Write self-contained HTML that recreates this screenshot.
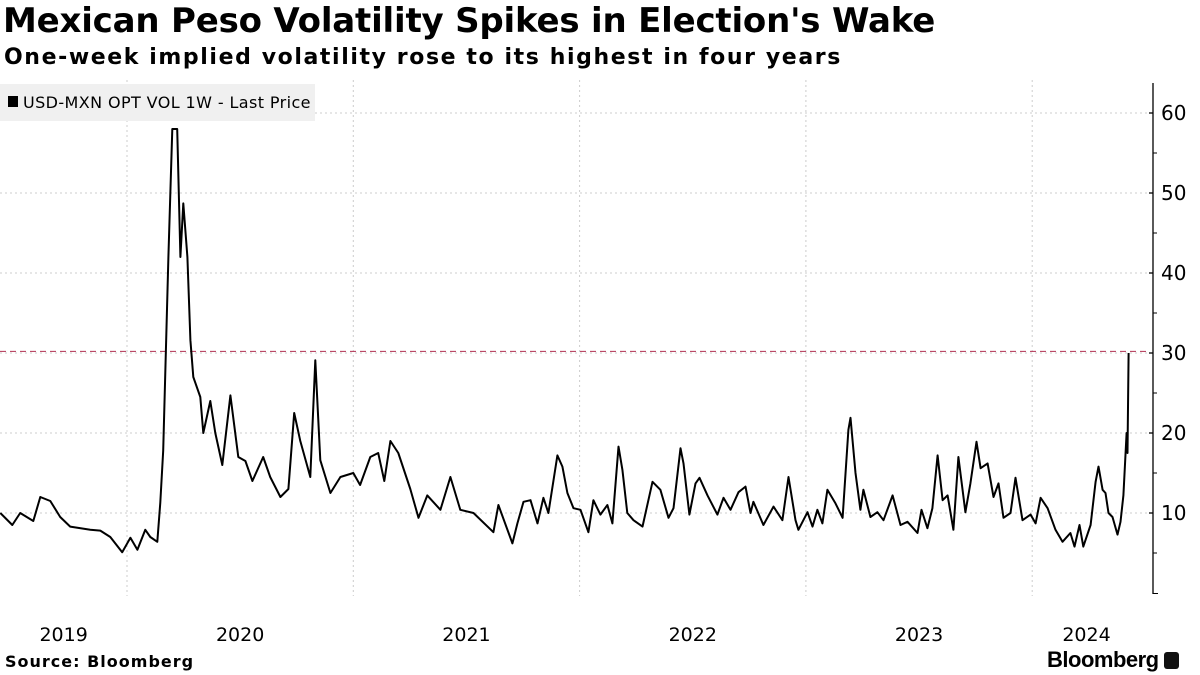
<!DOCTYPE html>
<html><head><meta charset="utf-8"><style>
body{margin:0;width:1200px;height:675px;background:#fff;overflow:hidden;font-family:"Liberation Sans","DejaVu Sans",sans-serif}
#title{position:absolute;left:3px;top:1px;font:bold 34px "DejaVu Sans","Liberation Sans",sans-serif;letter-spacing:-0.2px;color:#000;white-space:nowrap}
#sub{position:absolute;left:4px;top:45px;font:bold 22px "DejaVu Sans","Liberation Sans",sans-serif;letter-spacing:1.6px;color:#000;white-space:nowrap}
#src{position:absolute;left:5px;top:652px;font:bold 16px "DejaVu Sans","Liberation Sans",sans-serif;letter-spacing:1px}
#logo{position:absolute;left:1047px;top:647px;font:bold 22px "Liberation Sans",sans-serif;letter-spacing:-0.5px}
</style></head><body>
<div id="title">Mexican Peso Volatility Spikes in Election's Wake</div>
<div id="sub">One-week implied volatility rose to its highest in four years</div>
<svg id="chart" width="1200" height="675" style="position:absolute;left:0;top:0"></svg>
<div id="src">Source: Bloomberg</div>
<div id="logo">Bloomberg <span style="display:inline-block;width:15px;height:17px;background:#111;border-radius:3px;vertical-align:-2px"></span></div>
<script>
const dates=[2019.440,2019.493,2019.528,2019.586,2019.617,2019.661,2019.705,2019.749,2019.838,2019.882,2019.926,2019.979,2020.015,2020.046,2020.081,2020.103,2020.134,2020.147,2020.160,2020.183,2020.200,2020.222,2020.236,2020.249,2020.267,2020.280,2020.293,2020.324,2020.337,2020.368,2020.390,2020.421,2020.457,2020.492,2020.523,2020.554,2020.602,2020.633,2020.678,2020.713,2020.739,2020.766,2020.810,2020.832,2020.854,2020.899,2020.943,2021.000,2021.030,2021.075,2021.110,2021.137,2021.164,2021.199,2021.252,2021.288,2021.327,2021.385,2021.429,2021.473,2021.531,2021.619,2021.641,2021.703,2021.725,2021.752,2021.783,2021.814,2021.840,2021.862,2021.902,2021.924,2021.946,2021.973,2022.004,2022.039,2022.061,2022.092,2022.123,2022.145,2022.172,2022.189,2022.211,2022.238,2022.278,2022.322,2022.357,2022.393,2022.415,2022.446,2022.459,2022.485,2022.512,2022.530,2022.565,2022.609,2022.636,2022.667,2022.702,2022.733,2022.755,2022.768,2022.812,2022.857,2022.896,2022.923,2022.954,2022.967,2023.007,2023.029,2023.051,2023.073,2023.095,2023.131,2023.162,2023.188,2023.197,2023.219,2023.241,2023.254,2023.285,2023.316,2023.343,2023.383,2023.418,2023.449,2023.493,2023.511,2023.537,2023.559,2023.582,2023.604,2023.626,2023.652,2023.674,2023.705,2023.727,2023.754,2023.772,2023.803,2023.829,2023.851,2023.873,2023.904,2023.926,2023.957,2023.993,2024.015,2024.037,2024.068,2024.103,2024.134,2024.169,2024.187,2024.209,2024.226,2024.258,2024.280,2024.293,2024.311,2024.324,2024.337,2024.355,2024.377,2024.390,2024.403,2024.417,2024.421,2024.426];
const vols=[10,8.5,10,9,12,11.5,9.5,8.3,7.9,7.8,7.0,5.1,6.9,5.4,7.9,7.0,6.4,11.3,17.8,42,58,58,42,48.7,42,31.6,27,24.5,20,24,20,16,24.7,17,16.5,14,17,14.5,12,13,22.5,19,14.5,29.1,16.6,12.5,14.5,15,13.5,17,17.5,14,19,17.5,13,9.4,12.2,10.4,14.5,10.4,10,7.6,11,6.2,8.7,11.4,11.6,8.7,11.9,10,17.2,15.8,12.5,10.6,10.4,7.6,11.6,9.8,11,8.7,18.3,15.4,10,9.1,8.3,13.9,12.9,9.4,10.6,18.1,16.2,9.8,13.7,14.4,12.2,9.8,11.9,10.4,12.6,13.3,10,11.4,8.5,10.8,9.1,14.5,9.1,7.9,10.1,8.3,10.4,8.7,12.9,11.2,9.4,20.4,21.9,15,10.4,12.9,9.5,10.1,9.1,12.2,8.5,8.9,7.5,10.4,8.1,10.6,17.2,11.6,12.2,7.9,17,10.1,13.7,18.9,15.6,16.2,12,13.7,9.4,10,14.4,9.1,9.8,8.7,11.9,10.6,7.9,6.4,7.5,5.8,8.5,5.8,8.5,13.9,15.8,12.9,12.5,10,9.5,7.3,8.9,12.2,20,17.5,30];
const yTicks=[10,20,30,40,50,60];
const yearLabels=["2019","2020","2021","2022","2023","2024"];
const yearCenters=[2019.72,2020.5,2021.5,2022.5,2023.5,2024.24];
const gridYears=[2020,2021,2022,2023,2024];
const refValue=30.2;

const NS="http://www.w3.org/2000/svg";
const svg=document.getElementById('chart');
const xS=t=>127+(t-2020)*226.3;
const yS=v=>593-v*8;
function mk(tag,a,parent){const e=document.createElementNS(NS,tag);for(const k in a)e.setAttribute(k,a[k]);(parent||svg).appendChild(e);return e;}
for(const v of yTicks){
 const g=mk('line',{x1:0,x2:1150,y1:yS(v),y2:yS(v),stroke:'#ccc','stroke-dasharray':'2,3'});
 
 
}
for(const y of gridYears){
 const g=mk('line',{x1:xS(y),x2:xS(y),y1:80,y2:596,stroke:'#ccc','stroke-dasharray':'2,3'});
 
 
}
const lg=mk('rect',{x:0,y:84,width:315,height:37,fill:'#f0f0f0'});


mk('rect',{x:8,y:96,width:10,height:11,fill:'#000'});
const lt=mk('text',{x:23,y:108,'font-size':16,fill:'#000','font-family':'"DejaVu Sans",sans-serif','letter-spacing':'0.4'});
lt.textContent='USD-MXN OPT VOL 1W - Last Price';


const rl=mk('line',{x1:0,x2:1150,y1:yS(refValue),y2:yS(refValue),stroke:'#b03050','stroke-dasharray':'6,4','stroke-width':1});


const ax=mk('line',{x1:1153,x2:1153,y1:83,y2:594,stroke:'#000','stroke-width':1.3});


mk('line',{x1:1153,x2:1158,y1:593.5,y2:593.5,stroke:'#000'});
for(let v=5;v<=60;v+=10){mk('line',{x1:1153,x2:1157,y1:yS(v),y2:yS(v),stroke:'#000'});}
for(const v of yTicks){
 mk('line',{x1:1149,x2:1153,y1:yS(v),y2:yS(v),stroke:'#000','stroke-width':1.3});
 const t=mk('text',{x:1161,y:yS(v)+7,'font-size':20,fill:'#000','font-family':'"DejaVu Sans",sans-serif'});
 t.textContent=v;
 
 
}
yearLabels.forEach((l,i)=>{
 const t=mk('text',{x:xS(yearCenters[i]),y:641,'font-size':19,'text-anchor':'middle',fill:'#000','font-family':'"DejaVu Sans",sans-serif'});
 t.textContent=l;
 
 
});
const d=dates.map((t,i)=>(i?'L':'M')+xS(t).toFixed(1)+','+yS(vols[i]).toFixed(1)).join('');
const p=mk('path',{d:d,fill:'none',stroke:'#000','stroke-width':2,'stroke-linejoin':'round'});


</script>
</body></html>
